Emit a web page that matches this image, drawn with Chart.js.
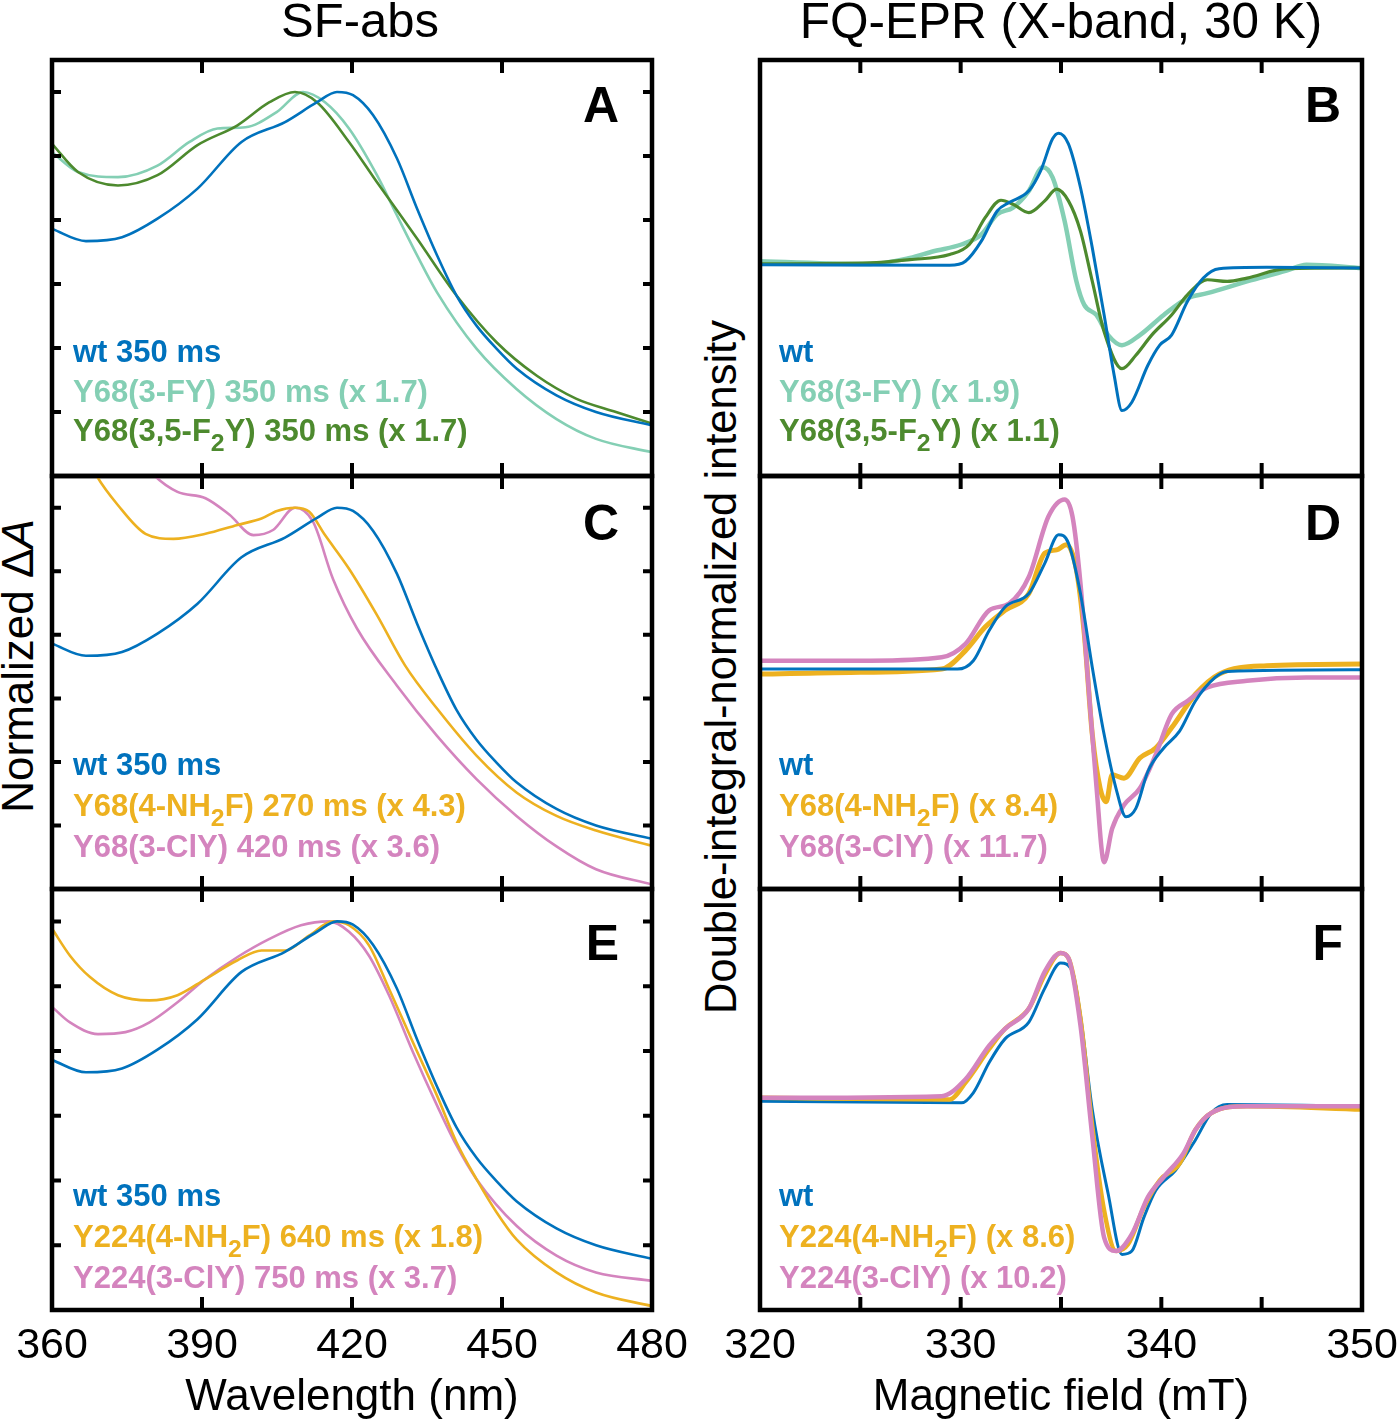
<!DOCTYPE html>
<html><head><meta charset="utf-8">
<script src="https://cdn.jsdelivr.net/npm/chart.js@4.4.0/dist/chart.umd.min.js"></script>
<style>
html,body{margin:0;padding:0;background:#fff;overflow:hidden;width:1397px;height:1424px;}
body{position:relative;font-family:"Liberation Sans",Arial,sans-serif;}
.cv{position:absolute;}
.t{position:absolute;white-space:nowrap;color:#000;}
.leg{position:absolute;font-weight:bold;font-size:31px;white-space:nowrap;}
.leg sub{font-size:0.8em;vertical-align:-0.4em;line-height:0;}
.let{position:absolute;font-weight:bold;font-size:50px;line-height:50px;text-align:right;width:60px;}
</style></head>
<body>
<div class="t" style="left:360px;top:-4px;font-size:49px;line-height:49px;transform:translateX(-50%)">SF-abs</div>
<div class="t" style="left:1061px;top:-4px;font-size:49.5px;line-height:49px;transform:translateX(-50%)">FQ-EPR (X-band, 30 K)</div>
<div class="t" style="left:18px;top:666px;font-size:44px;line-height:44px;transform:translate(-50%,-50%) rotate(-90deg)">Normalized Δ<i>A</i></div>
<div class="t" style="left:721px;top:667px;font-size:43.5px;line-height:43px;transform:translate(-50%,-50%) rotate(-90deg)">Double-integral-normalized intensity</div>

<canvas id="cA" class="cv" width="700" height="436" style="left:0;top:50px"></canvas>
<canvas id="cC" class="cv" width="700" height="433" style="left:0;top:466px"></canvas>
<canvas id="cE" class="cv" width="700" height="545" style="left:0;top:879px"></canvas>
<canvas id="cB" class="cv" width="710" height="436" style="left:700px;top:50px"></canvas>
<canvas id="cD" class="cv" width="710" height="433" style="left:700px;top:466px"></canvas>
<canvas id="cF" class="cv" width="710" height="545" style="left:700px;top:879px"></canvas>

<div class="let" style="left:559px;top:80px">A</div>
<div class="let" style="left:1281px;top:80px">B</div>
<div class="let" style="left:559px;top:498px">C</div>
<div class="let" style="left:1281px;top:498px">D</div>
<div class="let" style="left:559px;top:918px">E</div>
<div class="let" style="left:1283px;top:918px">F</div>

<div class="leg" style="left:73px;top:332px;line-height:39.5px">
<div style="color:#0072BD">wt 350 ms</div>
<div style="color:#84cfb4">Y68(3-FY) 350 ms (x 1.7)</div>
<div style="color:#4d8a2e">Y68(3,5-F<sub>2</sub>Y) 350 ms (x 1.7)</div>
</div>
<div class="leg" style="left:779px;top:332px;line-height:39.5px">
<div style="color:#0072BD">wt</div>
<div style="color:#84cfb4">Y68(3-FY) (x 1.9)</div>
<div style="color:#4d8a2e">Y68(3,5-F<sub>2</sub>Y) (x 1.1)</div>
</div>
<div class="leg" style="left:73px;top:744px;line-height:41px">
<div style="color:#0072BD">wt 350 ms</div>
<div style="color:#EDB120">Y68(4-NH<sub>2</sub>F) 270 ms (x 4.3)</div>
<div style="color:#d484be">Y68(3-ClY) 420 ms (x 3.6)</div>
</div>
<div class="leg" style="left:779px;top:744px;line-height:41px">
<div style="color:#0072BD">wt</div>
<div style="color:#EDB120">Y68(4-NH<sub>2</sub>F) (x 8.4)</div>
<div style="color:#d484be">Y68(3-ClY) (x 11.7)</div>
</div>
<div class="leg" style="left:73px;top:1175px;line-height:41px">
<div style="color:#0072BD">wt 350 ms</div>
<div style="color:#EDB120">Y224(4-NH<sub>2</sub>F) 640 ms (x 1.8)</div>
<div style="color:#d484be">Y224(3-ClY) 750 ms (x 3.7)</div>
</div>
<div class="leg" style="left:779px;top:1175px;line-height:41px">
<div style="color:#0072BD">wt</div>
<div style="color:#EDB120">Y224(4-NH<sub>2</sub>F) (x 8.6)</div>
<div style="color:#d484be">Y224(3-ClY) (x 10.2)</div>
</div>

<script>
// ---------- tick values ----------
const absXTicks = [390, 420, 450];
const absYTicks = [0.5, 0.6, 0.7, 0.8, 0.9, 1.0];
const eprXTicks = [325, 330, 335, 340, 345];

// ---------- SF-abs data (wavelength nm, normalized dA) ----------
const wtNm  = [360, 366.8, 374, 381.1, 389.1, 397.9, 406.6, 413, 417, 420.2, 424.2, 429, 433, 437, 440.9, 444.9, 448.9, 452.9, 460.9, 468.8, 480];
const wtAbs = [0.786, 0.767, 0.773, 0.802, 0.849, 0.922, 0.953, 0.984, 1.0, 0.995, 0.964, 0.896, 0.818, 0.745, 0.682, 0.635, 0.599, 0.568, 0.526, 0.5, 0.479];

const fyNm  = [360, 365.2, 373.2, 381.1, 387.5, 393.1, 398.7, 405, 410.2, 414.6, 419.4, 425, 429, 433, 437, 444.9, 452.9, 460.9, 468.8, 480];
const fyAbs = [0.906, 0.875, 0.867, 0.885, 0.922, 0.943, 0.945, 0.969, 1.0, 0.984, 0.943, 0.870, 0.807, 0.745, 0.687, 0.599, 0.536, 0.489, 0.458, 0.437];

const f2yNm  = [360, 365.2, 373.2, 381.1, 389.1, 397.1, 403.5, 408.6, 413, 419.4, 425, 433, 440.9, 448.9, 456.9, 464.8, 472.8, 480];
const f2yAbs = [0.919, 0.875, 0.854, 0.870, 0.917, 0.948, 0.984, 1.0, 0.984, 0.922, 0.859, 0.771, 0.682, 0.609, 0.557, 0.521, 0.5, 0.482];

const nh68Nm  = [366.5, 368.8, 373.2, 378.7, 384.3, 390.7, 397.1, 401.9, 405, 408.6, 411.4, 414.6, 419.4, 425, 430.6, 437, 444.9, 452.9, 460.9, 468.8, 480];
const nh68Abs = [1.09, 1.052, 1.004, 0.959, 0.951, 0.959, 0.973, 0.983, 0.995, 1.0, 0.994, 0.957, 0.904, 0.831, 0.752, 0.684, 0.61, 0.552, 0.515, 0.492, 0.468];

const cl68Nm  = [378, 380.3, 385.1, 390.7, 395.5, 400.3, 404.2, 408.6, 412.2, 416.2, 421, 429, 437, 444.9, 452.9, 460.9, 468.8, 480];
const cl68Abs = [1.075, 1.052, 1.025, 1.015, 0.989, 0.957, 0.965, 1.0, 0.978, 0.888, 0.81, 0.72, 0.641, 0.573, 0.515, 0.467, 0.431, 0.407];

const nh224Nm  = [360, 363.6, 367.6, 373.2, 379.5, 385.1, 390.7, 397.1, 401.9, 406.6, 411.4, 416.2, 419.4, 423.4, 427.4, 432.2, 437, 440.9, 444.9, 448.9, 452.9, 460.9, 468.8, 480];
const nh224Abs = [0.989, 0.947, 0.914, 0.886, 0.878, 0.886, 0.911, 0.94, 0.955, 0.955, 0.978, 1.0, 0.994, 0.963, 0.896, 0.813, 0.731, 0.659, 0.602, 0.551, 0.509, 0.458, 0.427, 0.406];

const cl224Nm  = [360, 363.6, 369.2, 374.7, 379.5, 385.1, 390.7, 397.1, 403.5, 409.8, 415.4, 419.4, 423.4, 427.4, 432.2, 437, 440.9, 444.9, 452.9, 460.9, 468.8, 480];
const cl224Abs = [0.868, 0.844, 0.826, 0.829, 0.844, 0.875, 0.911, 0.945, 0.973, 0.994, 1.0, 0.984, 0.947, 0.886, 0.798, 0.716, 0.654, 0.602, 0.53, 0.484, 0.458, 0.445];

// ---------- FQ-EPR data (field mT, intensity a.u.) ----------
const eprWtB_mT = [320, 329.45, 330.24, 331.03, 331.82, 332.41, 333.4, 333.99, 334.58, 334.88, 335.37, 335.97, 336.56, 337.15, 337.65, 338.04, 338.53, 339.33, 339.92, 340.51, 341.3, 342.09, 342.88, 345.25, 350];
const eprWtB    = [0, -0.02, 0.1, 0.7, 1.6, 1.85, 2.2, 2.8, 3.75, 3.92, 3.6, 2.3, 0.5, -1.5, -3.3, -4.35, -4.1, -3.0, -2.4, -2.1, -1.1, -0.4, -0.12, -0.08, -0.1];

const eprFyB_mT = [320, 325.49, 327.47, 328.65, 330.04, 331.03, 331.82, 332.61, 333.4, 334.09, 334.58, 335.18, 335.77, 336.16, 336.76, 337.35, 338.04, 338.93, 340.12, 341.3, 342.29, 344.27, 346.24, 347.23, 350];
const eprFyB    = [0.1, 0.02, 0.2, 0.4, 0.6, 0.9, 1.5, 1.7, 2.2, 2.9, 2.6, 1.3, -0.5, -1.2, -1.5, -2.1, -2.4, -2.1, -1.5, -1.0, -0.85, -0.5, -0.18, 0, -0.1];

const eprF2yB_mT = [320, 325.49, 327.47, 329.45, 330.43, 331.22, 332.01, 332.61, 333.4, 334.19, 334.78, 335.37, 335.97, 336.56, 337.15, 338.04, 338.73, 339.52, 340.51, 341.3, 342.29, 343.28, 344.27, 346.24, 350];
const eprF2yB    = [0.02, 0.05, 0.15, 0.3, 0.6, 1.4, 1.92, 1.8, 1.55, 1.9, 2.25, 1.9, 1.0, -0.5, -2.0, -3.1, -2.7, -2.1, -1.5, -0.9, -0.45, -0.5, -0.4, -0.12, -0.1];

const eprWtD_mT = [320, 329.84, 330.63, 331.42, 332.21, 333.4, 334.19, 334.88, 335.37, 335.97, 336.56, 337.15, 337.74, 338.24, 338.73, 339.33, 340.12, 340.91, 341.7, 342.68, 343.28, 350];
const eprWtD    = [0, 0, 0.25, 1.15, 1.85, 2.25, 3.15, 4.0, 3.75, 2.25, 0.05, -1.95, -3.55, -4.4, -4.15, -3.05, -2.35, -1.85, -0.95, -0.25, -0.07, -0.02];

const eprNh68D_mT = [320, 324.5, 329.05, 330.24, 331.22, 332.21, 333.4, 334.19, 334.78, 335.27, 335.77, 336.16, 336.56, 336.95, 337.25, 337.55, 338.14, 338.93, 339.72, 340.51, 341.7, 342.88, 345.25, 350];
const eprNh68D    = [-0.15, -0.1, 0, 0.55, 1.25, 1.75, 2.25, 3.45, 3.55, 3.7, 2.95, 1.05, -1.95, -3.55, -3.95, -3.15, -3.25, -2.65, -2.35, -1.75, -0.75, -0.15, 0.1, 0.15];

const eprCl68D_mT = [320, 325.49, 329.05, 330.24, 331.42, 332.41, 333.4, 334.38, 335.18, 335.57, 335.97, 336.36, 336.76, 337.15, 337.55, 338.14, 338.93, 339.72, 340.51, 341.3, 342.29, 344.27, 347.23, 350];
const eprCl68D    = [0.25, 0.25, 0.35, 0.75, 1.75, 1.95, 2.75, 4.55, 5.05, 4.55, 2.55, -0.45, -3.45, -5.75, -4.75, -4.05, -3.55, -2.55, -1.35, -0.95, -0.55, -0.35, -0.25, -0.25];

const eprWtF_mT = [320, 330.04, 330.63, 331.42, 332.21, 333.4, 334.19, 334.98, 335.57, 335.97, 336.56, 337.35, 338.04, 338.53, 339.13, 339.72, 340.71, 341.7, 342.49, 343.28, 350];
const eprWtF    = [0.05, 0, 0.3, 1.2, 1.9, 2.4, 3.4, 4.15, 3.9, 2.6, -0.2, -2.7, -4.5, -4.4, -3.4, -2.6, -2.0, -1.1, -0.3, -0.05, -0.1];

const eprNh224F_mT = [320, 329.45, 330.24, 331.42, 332.21, 333.4, 334.19, 334.98, 335.37, 335.97, 336.56, 337.15, 337.74, 338.34, 339.13, 339.92, 340.91, 341.7, 342.49, 344.27, 350];
const eprNh224F    = [0.15, 0.1, 0.6, 1.6, 2.2, 2.8, 3.8, 4.45, 4.3, 2.5, -0.7, -3.2, -4.4, -4.2, -3.1, -2.3, -1.8, -0.8, -0.3, -0.1, -0.2];

const eprCl224F_mT = [320, 329.05, 330.24, 331.42, 332.21, 333.4, 334.19, 334.98, 335.37, 335.97, 336.56, 337.15, 337.74, 338.53, 339.33, 340.12, 341.1, 341.7, 342.49, 344.27, 350];
const eprCl224F    = [0.15, 0.2, 0.7, 1.7, 2.2, 2.8, 3.9, 4.45, 4.3, 2.3, -1.0, -4.0, -4.4, -3.9, -2.8, -2.2, -1.5, -0.8, -0.3, -0.1, -0.1];

// ---------- styling ----------
const FF = '"Liberation Sans", Arial, sans-serif';
const C_BLUE = '#0072BD', C_TEAL = '#84cfb4', C_GREEN = '#4d8a2e', C_ORANGE = '#EDB120', C_PINK = '#d484be';

const framePlugin = {
  id: 'frame',
  afterDatasetsDraw(chart, args, o) {
    const {ctx, chartArea: a, scales: {x, y}} = chart;
    ctx.save();
    ctx.strokeStyle = '#000';
    ctx.lineWidth = 4;
    ctx.beginPath();
    (o.xt || []).forEach(v => {
      const p = x.getPixelForValue(v);
      ctx.moveTo(p, a.top); ctx.lineTo(p, a.top + o.xl);
      ctx.moveTo(p, a.bottom); ctx.lineTo(p, a.bottom - o.xl);
    });
    (o.yt || []).forEach(v => {
      const p = y.getPixelForValue(v);
      ctx.moveTo(a.left, p); ctx.lineTo(a.left + o.yl, p);
      ctx.moveTo(a.right, p); ctx.lineTo(a.right - o.yl, p);
    });
    ctx.stroke();
    ctx.lineWidth = 4.5;
    ctx.strokeRect(a.left, a.top, a.right - a.left, a.bottom - a.top);
    ctx.restore();
  }
};

function ds(xs, ys, color, w) {
  return {
    data: xs.map((v, i) => ({x: v, y: ys[i]})),
    borderColor: color, borderWidth: w, pointRadius: 0, fill: false,
    cubicInterpolationMode: 'monotone', clip: 0
  };
}

function makeChart(id, datasets, cfg) {
  const xScale = {
    type: 'linear', min: cfg.xmin, max: cfg.xmax,
    grid: {display: false, drawTicks: false}, border: {display: false},
    ticks: {display: false}
  };
  if (cfg.bottom) {
    xScale.ticks = {
      display: true, stepSize: cfg.step, autoSkip: false, maxRotation: 0, minRotation: 0,
      padding: 10, color: '#000', font: {family: FF, size: 43},
      callback: cfg.labelFn
    };
    xScale.title = {display: true, text: cfg.title, color: '#000', font: {family: FF, size: 44}, padding: {top: 0, bottom: 0}};
    xScale.afterFit = s => { s.height = 114; };
  } else {
    xScale.display = false;
  }
  return new Chart(document.getElementById(id), {
    type: 'line',
    data: {datasets},
    options: {
      responsive: false, animation: false, maintainAspectRatio: false,
      layout: {padding: cfg.pad},
      plugins: {legend: {display: false}, tooltip: {enabled: false},
        frame: {xt: cfg.xt, yt: cfg.yt, xl: 13, yl: 9}},
      scales: {
        x: xScale,
        y: {type: 'linear', display: false, min: cfg.ymin, max: cfg.ymax}
      }
    },
    plugins: [framePlugin]
  });
}

const absLbl = v => String(v);
const eprLbl = v => (v % 10 === 0 ? String(v) : '');
const padL = {left: 52, right: 48, top: 10, bottom: 10};
const padLb = {left: 52, right: 48, top: 10, bottom: 0};
const padR = {left: 60, right: 48, top: 10, bottom: 10};
const padRb = {left: 60, right: 48, top: 10, bottom: 0};

makeChart('cA', [
  ds(wtNm, wtAbs, C_BLUE, 2.6),
  ds(f2yNm, f2yAbs, C_GREEN, 2.6),
  ds(fyNm, fyAbs, C_TEAL, 2.6)
], {xmin: 360, xmax: 480, ymin: 0.4, ymax: 1.05, pad: padL, xt: absXTicks, yt: absYTicks});

makeChart('cC', [
  ds(wtNm, wtAbs, C_BLUE, 2.6),
  ds(nh68Nm, nh68Abs, C_ORANGE, 2.6),
  ds(cl68Nm, cl68Abs, C_PINK, 2.6)
], {xmin: 360, xmax: 480, ymin: 0.4, ymax: 1.05, pad: padL, xt: absXTicks, yt: absYTicks});

makeChart('cE', [
  ds(wtNm, wtAbs, C_BLUE, 2.6),
  ds(nh224Nm, nh224Abs, C_ORANGE, 2.6),
  ds(cl224Nm, cl224Abs, C_PINK, 2.6)
], {xmin: 360, xmax: 480, ymin: 0.4, ymax: 1.05, pad: padLb, xt: absXTicks, yt: absYTicks,
    bottom: true, step: 30, labelFn: absLbl, title: 'Wavelength (nm)'});

makeChart('cB', [
  ds(eprWtB_mT, eprWtB, C_BLUE, 3),
  ds(eprF2yB_mT, eprF2yB, C_GREEN, 3.2),
  ds(eprFyB_mT, eprFyB, C_TEAL, 4.5)
], {xmin: 320, xmax: 350, ymin: -6.3, ymax: 6.1, pad: padR, xt: eprXTicks, yt: []});

makeChart('cD', [
  ds(eprWtD_mT, eprWtD, C_BLUE, 3),
  ds(eprCl68D_mT, eprCl68D, C_PINK, 4.5),
  ds(eprNh68D_mT, eprNh68D, C_ORANGE, 5)
], {xmin: 320, xmax: 350, ymin: -6.55, ymax: 5.75, pad: padR, xt: eprXTicks, yt: []});

makeChart('cF', [
  ds(eprCl224F_mT, eprCl224F, C_PINK, 4.5),
  ds(eprNh224F_mT, eprNh224F, C_ORANGE, 4.5),
  ds(eprWtF_mT, eprWtF, C_BLUE, 3)
], {xmin: 320, xmax: 350, ymin: -6.15, ymax: 6.35, pad: padRb, xt: eprXTicks, yt: [],
    bottom: true, step: 5, labelFn: eprLbl, title: 'Magnetic field (mT)'});
</script>
</body></html>
